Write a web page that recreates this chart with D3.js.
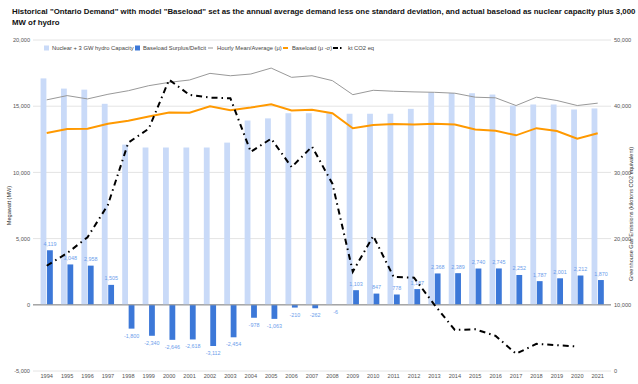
<!DOCTYPE html>
<html><head><meta charset="utf-8">
<script src="https://cdn.jsdelivr.net/npm/d3@7/dist/d3.min.js"></script>
<style>
body{margin:0;background:#fff;}
svg{display:block;font-family:"Liberation Sans",Arial,sans-serif;}
</style></head>
<body><svg id="chart" width="638" height="384"></svg>
<script>
const years = ["1994","1995","1996","1997","1998","1999","2000","2001","2002","2003","2004","2005","2006","2007","2008","2009","2010","2011","2012","2013","2014","2015","2016","2017","2018","2019","2020","2021"];
const capacity = [17100,16330,16250,15180,12100,11880,11880,11880,11880,12250,13920,14080,14470,14470,14470,14430,14430,14430,14800,16050,16000,15980,15880,15050,15130,15130,14750,14830];
const surplus = [4119,3048,2958,1505,-1800,-2340,-2646,-2618,-3112,-2454,-978,-1063,-210,-262,-6,1103,847,778,1187,2368,2389,2740,2745,2252,1787,2001,2212,1870];
const hourlyMean = [15480,15800,15550,15900,16170,16550,16800,16980,17480,17300,17430,17880,17180,17300,16930,15870,16200,16130,16080,16050,15980,15680,15630,15050,15680,15430,15050,15230];
const baseload = [12980,13280,13290,13680,13900,14220,14530,14500,15000,14700,14900,15140,14680,14730,14475,13330,13580,13650,13610,13680,13610,13240,13140,12800,13340,13130,12540,12960];
const co2 = [15900,17800,20200,25100,34500,36600,44000,41700,41300,41200,33100,35100,30800,33900,28300,15000,20400,14200,14100,10000,6200,6300,5300,2600,4100,3900,3700,null];
const leftTicks = [-5000,0,5000,10000,15000,20000];
const rightTicks = [0,10000,20000,30000,40000,50000];
const titleLines = ['Historical "Ontario Demand" with model "Baseload" set as the annual average demand less one standard deviation, and actual baseload as nuclear capacity plus 3,000', 'MW of hydro'];
const legendItems = ["Nuclear + 3 GW hydro Capacity","Baseload Surplus/Deficit","Hourly Mean/Average (μ)","Baseload (μ -σ)","kt CO2 eq"];
const yLeftTitle = "Megawatt (MW)";
const yRightTitle = "Greenhouse Gas Emissions (kilotons CO2 equivalent)";

const svg = d3.select("#chart");
const loc = d3.formatLocale({decimal:".",thousands:",",grouping:[3],currency:["$",""],minus:"-"});
const fmt = loc.format(",");

const pTop = 40, pBottom = 371, pLeft = 36.5, pRight = 607.9;
const x = d3.scaleBand().domain(years).range([pLeft, pRight]).paddingInner(0.4).paddingOuter(0.2);
const x1 = d3.scaleBand().domain(["cap","sur"]).range([0, x.bandwidth()]).paddingInner(0.1);
const yL = d3.scaleLinear().domain([-5000, 20000]).range([pBottom, pTop]);
const yR = d3.scaleLinear().domain([0, 50000]).range([pBottom, pTop]);

// title
svg.append("g").selectAll("text").data(titleLines).join("text")
  .attr("x", 12).attr("y", (d,i) => 14 + i*10.5)
  .attr("font-size", 7.85).attr("font-weight", "bold").attr("fill", "#111").text(d => d);

// gridlines
svg.append("g").selectAll("line").data(leftTicks).join("line")
  .attr("x1", 33).attr("x2", 611).attr("y1", d => yL(d)).attr("y2", d => yL(d))
  .attr("stroke", d => d === 0 ? "#9e9e9e" : "#e4e4e4").attr("stroke-width", 1);

// left axis
const axL = d3.axisLeft(yL).tickValues(leftTicks).tickFormat(fmt).tickSize(0).tickPadding(0);
const gL = svg.append("g").attr("transform", "translate(30,0)").call(axL);
gL.select(".domain").remove();
gL.selectAll("text").attr("font-size", 5.6).attr("fill", "#555").attr("font-family", "Liberation Sans, Arial, sans-serif");

// right axis
const axR = d3.axisRight(yR).tickValues(rightTicks).tickFormat(fmt).tickSize(0).tickPadding(0);
const gR = svg.append("g").attr("transform", "translate(614,0)").call(axR);
gR.select(".domain").remove();
gR.selectAll("text").attr("font-size", 5.6).attr("fill", "#555").attr("font-family", "Liberation Sans, Arial, sans-serif");

// x axis
const axX = d3.axisBottom(x).tickSize(0).tickPadding(0);
const gX = svg.append("g").attr("transform", `translate(0,${pBottom+3})`).call(axX);
gX.select(".domain").remove();
gX.selectAll("text").attr("font-size", 5.6).attr("fill", "#555").attr("dy", "0.71em").attr("font-family", "Liberation Sans, Arial, sans-serif");

// axis titles
svg.append("text").attr("transform", `translate(11,${(pTop+pBottom)/2}) rotate(-90)`)
  .attr("text-anchor", "middle").attr("font-size", 5.6).attr("fill", "#333").text(yLeftTitle);
svg.append("text").attr("transform", `translate(633,214) rotate(-90)`)
  .attr("text-anchor", "middle").attr("font-size", 5.6).attr("fill", "#333").text(yRightTitle);

// bars
const gB = svg.append("g");
gB.selectAll("rect.cap").data(years).join("rect").attr("class","cap")
  .attr("x", (d) => x(d) + x1("cap")).attr("width", x1.bandwidth())
  .attr("y", (d,i) => yL(capacity[i])).attr("height", (d,i) => yL(0) - yL(capacity[i]))
  .attr("fill", "#c9daf8");
gB.selectAll("rect.sur").data(years).join("rect").attr("class","sur")
  .attr("x", (d) => x(d) + x1("sur")).attr("width", x1.bandwidth())
  .attr("y", (d,i) => yL(Math.max(0, surplus[i]))).attr("height", (d,i) => Math.abs(yL(0) - yL(surplus[i])))
  .attr("fill", "#3c78d8");

// zero line on top
svg.append("line").attr("x1", 33).attr("x2", 611).attr("y1", yL(0)).attr("y2", yL(0)).attr("stroke", "#9e9e9e");

// bar labels
gB.selectAll("text.lab").data(years).join("text").attr("class","lab")
  .attr("x", d => x(d) + x1("sur") + x1.bandwidth()/2)
  .attr("y", (d,i) => surplus[i] >= 0 ? yL(surplus[i]) - 4.5 : yL(surplus[i]) + 9)
  .attr("text-anchor", "middle").attr("font-size", 5.4).attr("fill", "#6d9eeb")
  .text((d,i) => fmt(surplus[i]));

// lines
const cx = d => x(d) + x.bandwidth()/2;
const lineL = vals => d3.line().defined((d,i) => vals[i] != null).x(d => cx(d)).y((d,i) => yL(vals[i]))(years);
const lineR = vals => d3.line().defined((d,i) => vals[i] != null).x(d => cx(d)).y((d,i) => yR(vals[i]))(years);
svg.append("path").attr("d", lineL(hourlyMean)).attr("fill","none").attr("stroke","#999").attr("stroke-width",1);
svg.append("path").attr("d", lineL(baseload)).attr("fill","none").attr("stroke","#ff9900").attr("stroke-width",2);
svg.append("path").attr("d", lineR(co2)).attr("fill","none").attr("stroke","#000").attr("stroke-width",2)
  .attr("stroke-dasharray","6,4,1.5,4");

// legend
const lg = svg.append("g");
const ly = 48;
const lx = [44, 135, 208, 283, 333];
const tx = [52, 143, 217, 292, 348];
lg.append("rect").attr("x", lx[0]).attr("y", ly-2.5).attr("width",5).attr("height",5).attr("fill","#c9daf8");
lg.append("rect").attr("x", lx[1]).attr("y", ly-2.5).attr("width",5).attr("height",5).attr("fill","#3c78d8");
lg.append("line").attr("x1", lx[2]).attr("x2", lx[2]+5).attr("y1", ly).attr("y2", ly).attr("stroke","#999").attr("stroke-width",1);
lg.append("line").attr("x1", lx[3]).attr("x2", lx[3]+5).attr("y1", ly).attr("y2", ly).attr("stroke","#ff9900").attr("stroke-width",2);
lg.append("line").attr("x1", lx[4]).attr("x2", lx[4]+10).attr("y1", ly).attr("y2", ly).attr("stroke","#000").attr("stroke-width",2).attr("stroke-dasharray","5,2,1.5,2");
lg.selectAll("text").data(legendItems).join("text")
  .attr("x", (d,i) => tx[i]).attr("y", ly+2).attr("font-size", 5.8).attr("fill", "#444").text(d => d);
</script></body></html>
